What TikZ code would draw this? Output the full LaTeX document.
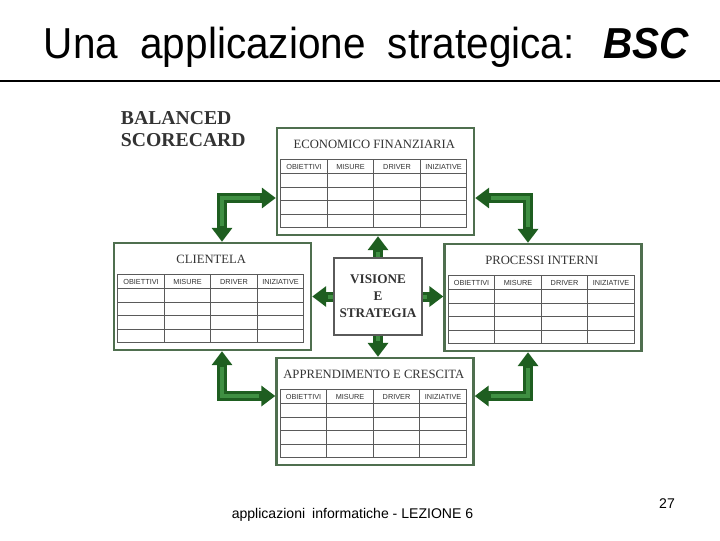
\documentclass[tikz,border=0pt]{standalone}
\usepackage{fontspec}
\setmainfont{Liberation Serif}
\setsansfont{Liberation Sans}
\usepackage{graphicx}
\usepackage{tikz}
\usetikzlibrary{arrows.meta, positioning, calc}
\definecolor{arrowdark}{HTML}{1E5E20}
\definecolor{arrowlight}{HTML}{3F8F42}
\definecolor{boxgreen}{HTML}{4F6F4F}
\definecolor{gridgrey}{HTML}{5A5A5A}
\definecolor{txtgrey}{HTML}{333333}

\begin{document}
\begin{tikzpicture}[
    x=0.025cm, y=-0.025cm,
    persp/.style={draw=boxgreen, line width=1.7pt, fill=white,
                  minimum width=4.925cm, minimum height=2.675cm, inner sep=0pt},
    ptitle/.style={font=\fontsize{9}{10}\selectfont, text=txtgrey},
    colhead/.style={font=\sffamily\fontsize{5.2}{6}\selectfont, text=txtgrey},
    grid/.style={draw=gridgrey, line width=0.8pt},
    arrowone/.style={draw=arrowdark, line width=0.25cm,
                     -{Triangle[width=0.5cm,length=0.35cm]},
                     postaction={draw=arrowlight, line width=0.1cm, -, shorten >=0.4cm}},
    arrowtwo/.style={draw=arrowdark, line width=0.25cm,
                     {Triangle[width=0.5cm,length=0.35cm]}-{Triangle[width=0.5cm,length=0.35cm]},
                     postaction={draw=arrowlight, line width=0.1cm, -, shorten >=0.4cm, shorten <=0.4cm}}
]
    \useasboundingbox (0,0) rectangle (720,540);

    % title and rule
    \node[font=\sffamily\fontsize{28.8}{32}\selectfont] (titolo) at (366.5,47)
        {\scalebox{1}[1.07]{Una\hspace{0.55em}applicazione\hspace{0.55em}strategica:\hspace{0.7em}\textbf{\textit{BSC}}}};
    \draw[line width=0.8pt] (0,81) -- (720,81);

    \node[font=\bfseries\fontsize{14}{16.3}\selectfont, text=txtgrey, align=left, anchor=north west]
        (bsc) at (116,106) {BALANCED\\SCORECARD};

    % the four perspectives
    \foreach \nm/\cx/\cy/\ttl in {economico/375.5/181.5/ECONOMICO FINANZIARIA,
                                  clientela/212.5/296.5/CLIENTELA,
                                  processi/543/297.5/PROCESSI INTERNI,
                                  apprendimento/375/411.5/APPRENDIMENTO E CRESCITA} {
        \node[persp] (\nm) at (\cx,\cy) {};
        \begin{scope}[shift={(\nm.north west)}]
            \node[ptitle] at (98.5,18) {\ttl};
            \draw[grid] (5,33) rectangle (191,101);
            \foreach \yy in {47,61,74,88}
                \draw[grid] (5,\yy) -- (191,\yy);
            \foreach \xx in {51.5,98,144.5}
                \draw[grid] (\xx,33) -- (\xx,101);
            \node[colhead] at (28.25,40) {OBIETTIVI};
            \node[colhead] at (74.75,40) {MISURE};
            \node[colhead] at (121.25,40) {DRIVER};
            \node[colhead] at (167.75,40) {INIZIATIVE};
        \end{scope}
    }

    \node[draw=gridgrey, line width=1.2pt, fill=white, minimum width=2.2cm, minimum height=1.925cm,
          font=\bfseries\fontsize{9.4}{12}\selectfont, text=txtgrey, align=center]
        (visione) at (378,296.5) {VISIONE\\E\\STRATEGIA};

    % connectors
    \draw[arrowtwo] ($(clientela.north)+(9.5,0)$) |- ($(economico.west)+(0,16.5)$);
    \draw[arrowtwo] ($(economico.east)+(0,16.5)$) -| ($(processi.north)+(-15,0)$);
    \draw[arrowtwo] ($(clientela.south)+(9.5,0)$) |- ($(apprendimento.west)+(0,-15.5)$);
    \draw[arrowtwo] ($(processi.south)+(-15,0)$) |- ($(apprendimento.east)+(0,-15.5)$);

    \draw[arrowone] (visione.north) -- (visione.north |- economico.south);
    \draw[arrowone] (visione.south) -- (visione.south |- apprendimento.north);
    \draw[arrowone] (visione.west) -- (visione.west -| clientela.east);
    \draw[arrowone] (visione.east) -- (visione.east -| processi.west);

    % footer
    \node[font=\sffamily\fontsize{10}{12}\selectfont] (piede) at (352.5,515)
        {applicazioni\hspace{0.5em}informatiche - LEZIONE 6};
    \node[font=\sffamily\fontsize{10}{12}\selectfont] (pagina) at (667,504) {27};
\end{tikzpicture}
\end{document}
